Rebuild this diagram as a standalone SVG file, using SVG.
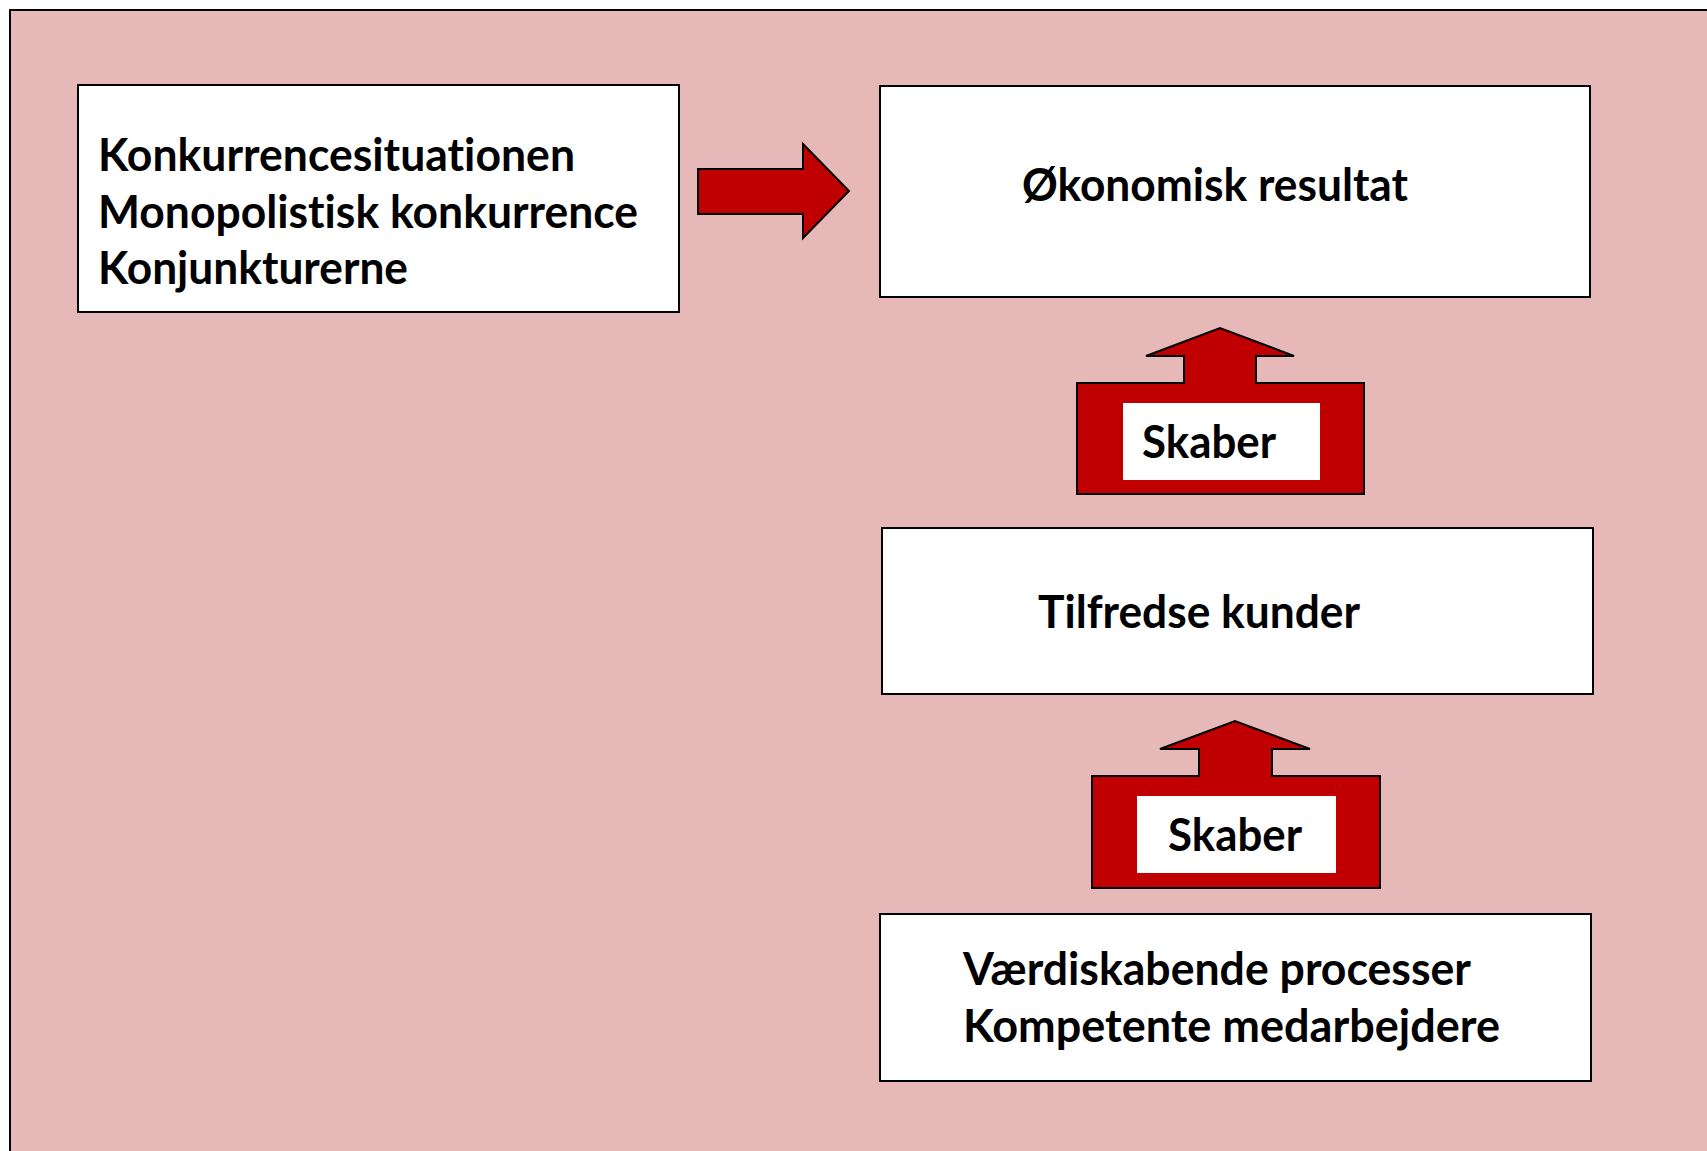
<svg xmlns="http://www.w3.org/2000/svg" width="1707" height="1151" viewBox="0 0 1707 1151">
  <style>
    .box { fill: #FFFFFF; stroke: #000000; stroke-width: 2; }
    .arrow { fill: #C00000; stroke: #000000; stroke-width: 2; stroke-linejoin: miter; }
    .lbl { fill: #FFFFFF; stroke: none; }
    .t { font-family: Lato, "Liberation Sans", sans-serif; font-weight: 700; font-size: 46px; fill: #000000; font-variant-ligatures: none; font-feature-settings: "liga" 0, "clig" 0; }
  </style>
  <rect x="0" y="0" width="1707" height="1151" fill="#FFFFFF"/>
  <rect id="frame" x="10" y="10" width="1730" height="1180" fill="#E6B8B7" stroke="#000000" stroke-width="2"/>

  <g id="connectors">
    <polygon class="arrow" points="698,169 803,169 803,144 849,191 803,238 803,214 698,214"/>
    <g id="skaber1">
      <polygon class="arrow" points="1077,494 1077,383 1184,383 1184,356 1146,356 1220,328 1294,356 1256,356 1256,383 1364,383 1364,494"/>
      <rect class="lbl" x="1123" y="403" width="197" height="77"/>
      <text class="t" x="1142" y="458" textLength="134" lengthAdjust="spacingAndGlyphs">Skaber</text>
    </g>
    <g id="skaber2">
      <polygon class="arrow" points="1092,888 1092,776 1199,776 1199,749 1160,749 1235,721 1310,749 1272,749 1272,776 1380,776 1380,888"/>
      <rect class="lbl" x="1137" y="796" width="199" height="77"/>
      <text class="t" x="1168" y="851" textLength="134" lengthAdjust="spacingAndGlyphs">Skaber</text>
    </g>
  </g>

  <g id="node-konkurrence">
    <rect class="box" x="78" y="85" width="601" height="227"/>
    <text class="t" x="98" y="171" textLength="477" lengthAdjust="spacingAndGlyphs">Konkurrencesituationen</text>
    <text class="t" x="98" y="228" textLength="540" lengthAdjust="spacingAndGlyphs">Monopolistisk konkurrence</text>
    <text class="t" x="98" y="284" textLength="310" lengthAdjust="spacingAndGlyphs">Konjunkturerne</text>
  </g>

  <g id="node-resultat">
    <rect class="box" x="880" y="86" width="710" height="211"/>
    <text class="t" x="1022" y="201" textLength="386" lengthAdjust="spacingAndGlyphs">Økonomisk resultat</text>
  </g>

  <g id="node-kunder">
    <rect class="box" x="882" y="528" width="711" height="166"/>
    <text class="t" x="1038" y="628" textLength="322" lengthAdjust="spacingAndGlyphs">Tilfredse kunder</text>
  </g>

  <g id="node-processer">
    <rect class="box" x="880" y="914" width="711" height="167"/>
    <text class="t" x="963" y="985" textLength="508" lengthAdjust="spacingAndGlyphs">Værdiskabende processer</text>
    <text class="t" x="963" y="1042" textLength="537" lengthAdjust="spacingAndGlyphs">Kompetente medarbejdere</text>
  </g>
</svg>
